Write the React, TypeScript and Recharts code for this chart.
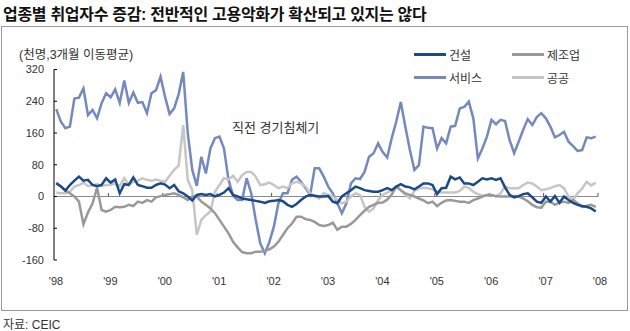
import { LineChart, Line, XAxis, YAxis, ReferenceLine } from "recharts";

// monthly, Jan 1998 .. Dec 2007 (thousand persons, 3-month moving average)
const construction = [
  33, 26, 15, 29, 40, 50, 40, 42, 29, 26, 29, 46,
  35, 43, 8, 31, 29, 48, 29, 26, 22, 22, 29, 33,
  30, 21, 29, 13, 8, 0, -10, 4, 6, 4, 6, 0,
  4, 10, 21, 4, 0, -5, -7, -9, -11, -13, -16, -12,
  -11, -9, -12, -21, -26, -19, -9, 0, 4, 2, 0, 0,
  1, -13, -17, 0, 8, 16, 25, 21, 16, 14, 12, 12,
  16, 21, 16, 25, 31, 25, 23, 18, 25, 33, 33, 29,
  6, 21, 22, 50, 43, 48, 33, 33, 29, 37, 46, 43,
  46, 42, 46, 23, 4, -2, 1, 6, 8, -2, -13, -16,
  0, -13, 1, -16, 0, -9, -16, -21, -24, -26, -30, -38,
];

const manufacturing = [
  35, 25, 16, 8, 0, -13, -70, -40, -18, 22, -34, -38,
  -34, -26, -27, -26, -21, -24, -13, -16, -9, -13, -2, 1,
  4, 6, 8, 4, -2, -9, 0, 0, -13, -21, -30, -42,
  -59, -76, -93, -114, -128, -140, -143, -143, -139, -139, -137, -133,
  -126, -114, -97, -80, -68, -51, -51, -57, -59, -64, -72, -74,
  -72, -66, -84, -76, -76, -69, -59, -47, -36, -26, -21, -16,
  -15, -8, 5, 25, 16, 8, 4, 0, -5, -10, -17, -13,
  -24, -16, -10, -9, -11, -13, -13, -16, -9, -5, 0, 4,
  4, 1, 0, 0, 0, 1, 0, -5, -12, -21, -27, -28,
  -13, -13, -21, -15, -13, -16, -9, -17, -26, -24, -21, -26,
];

const services = [
  220, 189, 172, 176, 247, 249, 272, 205, 218, 197, 235, 260,
  250, 270, 236, 292, 236, 262, 236, 238, 210, 260, 268, 302,
  251, 208, 222, 258, 314, 160, 67, 27, 100, 58, 121, 147,
  151, 121, 42, 2, -9, -9, 46, 8, -59, -118, -143, -115,
  -76, -17, 8, 8, 42, 50, 37, 21, 4, 71, 71, 50,
  25, 8, -17, -42, -17, 33, 46, 44, 62, 100, 109, 134,
  112, 98, 147, 189, 238, 176, 117, 67, 79, 176, 173, 172,
  121, 147, 134, 176, 178, 222, 226, 239, 197, 96, 121, 151,
  193, 182, 193, 190, 142, 109, 138, 168, 195, 180, 200, 210,
  197, 176, 149, 155, 163, 138, 127, 115, 117, 149, 147, 151,
];

const publicSector = [
  10, 8, 8, 12, 25, 29, 35, 26, 29, 31, 26, 29,
  29, 33, 26, 46, 29, 37, 40, 46, 42, 40, 43, 40,
  37, 52, 67, 78, 180, 42, 16, -97, -59, -47, -38, 12,
  29, 46, 43, 52, 37, 54, 62, 62, 50, 29, 31, 35,
  29, 21, 25, 21, 33, 37, 33, 25, 8, 0, -5, 8,
  4, 0, -9, -17, -13, 0, 8, 4, -26, -38, -30, -9,
  4, 10, 15, 25, 16, 4, -5, 14, 21, 22, 21, 18,
  12, 10, 10, 10, 10, 14, 25, 22, 12, 6, 2, 2,
  4, 0, 8, 25, 21, 21, 21, 29, 35, 33, 25, 16,
  18, 21, 26, 29, 21, 0, -9, 8, 20, 37, 28, 35,
];

const yearLabels = ["'98", "'99", "'00", "'01", "'02", "'03", "'04", "'05", "'06", "'07", "'08"];
const yTicks = [-160, -80, 0, 80, 160, 240, 320];

const data = services.map((_, i) => ({
  t: i + 0.5,
  construction: construction[i],
  manufacturing: manufacturing[i],
  services: services[i],
  publicSector: publicSector[i],
}));

const yearTicks = yearLabels.map((_, i) => i * 12);

const font = "'Liberation Sans', Arial, 'Noto Sans CJK KR', sans-serif";
const krFont = "'Liberation Sans', 'Noto Sans CJK KR', sans-serif";

const colors = {
  construction: "#1b4a86",
  manufacturing: "#999999",
  services: "#7489bd",
  publicSector: "#c6c6c6",
};

const legendItems = [
  { key: "construction", name: "건설", left: 414, top: 54 },
  { key: "manufacturing", name: "제조업", left: 512, top: 54 },
  { key: "services", name: "서비스", left: 414, top: 77 },
  { key: "publicSector", name: "공공", left: 512, top: 77 },
];

export default function App() {
  return (
    <div
      style={{
        position: "absolute",
        left: 0,
        top: 0,
        width: 630,
        height: 331,
        background: "#fff",
        fontFamily: krFont,
        color: "#333",
      }}
    >
      <div
        style={{
          position: "absolute",
          left: 3,
          top: 1,
          fontSize: 16,
          fontWeight: 700,
          letterSpacing: -0.3,
          color: "#111",
          whiteSpace: "nowrap",
        }}
      >
        업종별 취업자수 증감: 전반적인 고용악화가 확산되고 있지는 않다
      </div>
      <div
        style={{
          position: "absolute",
          left: 1,
          top: 26,
          width: 625,
          height: 283,
          border: "1px solid #9a9a9a",
        }}
      />
      <div style={{ position: "absolute", left: 19, top: 44, fontSize: 12.5, whiteSpace: "nowrap" }}>
        (천명,3개월 이동평균)
      </div>
      {legendItems.map((it) => (
        <div
          key={it.key}
          style={{
            position: "absolute",
            left: it.left,
            top: it.top - 8,
            height: 16,
            display: "flex",
            alignItems: "center",
            fontSize: 12,
            whiteSpace: "nowrap",
          }}
        >
          <span
            style={{
              display: "inline-block",
              width: 32,
              height: 3,
              background: colors[it.key as keyof typeof colors],
              marginRight: 3,
            }}
          />
          {it.name}
        </div>
      ))}
      <div style={{ position: "absolute", left: 232, top: 117, fontSize: 13, whiteSpace: "nowrap" }}>
        직전 경기침체기
      </div>
      <div style={{ position: "absolute", left: 3, top: 315, fontSize: 12, whiteSpace: "nowrap" }}>
        자료: CEIC
      </div>
      <div style={{ position: "absolute", left: 0, top: 0 }}>
        <LineChart
          width={630}
          height={331}
          data={data}
          margin={{ top: 69.5, right: 32, left: 14, bottom: 41 }}
        >
          <XAxis
            dataKey="t"
            type="number"
            domain={[0, 120]}
            ticks={yearTicks}
            tickFormatter={(v) => yearLabels[Math.round(v / 12)]}
            axisLine={false}
            tickLine={false}
            tickMargin={11}
            height={30}
            tick={{ fontSize: 11, fill: "#333", fontFamily: font, dx: 2 }}
          />
          <YAxis
            domain={[-160, 320]}
            ticks={yTicks}
            width={40}
            stroke="#000"
            tickSize={-3}
            tickMargin={13}
            tick={{ fontSize: 11, fill: "#333", fontFamily: font }}
          />
          <ReferenceLine y={0} stroke="#8a8a8a" strokeWidth={1} />
          {yearTicks.slice(1).map((x) => (
            <ReferenceLine
              key={x}
              segment={[
                { x, y: 0 },
                { x, y: 9 },
              ]}
              stroke="#555"
              strokeWidth={1}
            />
          ))}
          <Line
            dataKey="services"
            type="linear"
            stroke={colors.services}
            strokeWidth={2.5}
            dot={false}
            isAnimationActive={false}
          />
          <Line
            dataKey="publicSector"
            type="linear"
            stroke={colors.publicSector}
            strokeWidth={2.5}
            dot={false}
            isAnimationActive={false}
          />
          <Line
            dataKey="manufacturing"
            type="linear"
            stroke={colors.manufacturing}
            strokeWidth={2.5}
            dot={false}
            isAnimationActive={false}
          />
          <Line
            dataKey="construction"
            type="linear"
            stroke={colors.construction}
            strokeWidth={2.5}
            dot={false}
            isAnimationActive={false}
          />
        </LineChart>
      </div>
    </div>
  );
}
